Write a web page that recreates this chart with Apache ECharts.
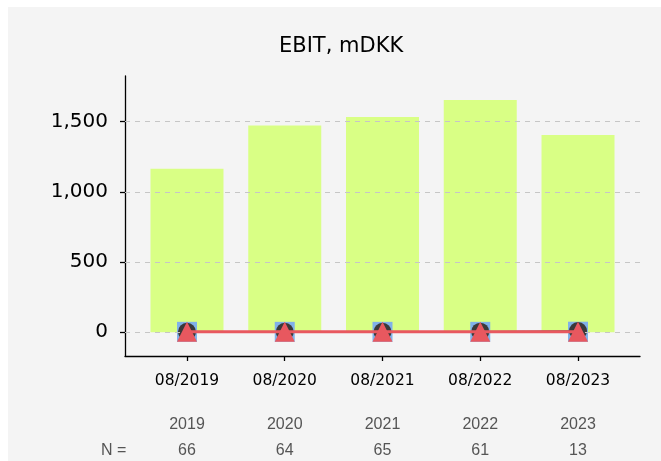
<!DOCTYPE html>
<html>
<head>
<meta charset="utf-8">
<script src="https://cdn.jsdelivr.net/npm/echarts@6/dist/echarts.min.js"></script>
<style>
html,body{margin:0;padding:0;background:#ffffff;}
#bg{position:absolute;left:8px;top:7px;right:0;bottom:0;background:#f4f4f4;}
#c{position:absolute;left:0;top:0;width:661px;height:461px;}
</style>
</head>
<body>
<div id="bg"></div>
<div id="c"></div>
<script>
// ---- data ----
const categories = ['08/2019', '08/2020', '08/2021', '08/2022', '08/2023'];
const years = ['2019', '2020', '2021', '2022', '2023'];
const counts = ['66', '64', '65', '61', '13'];
const ebit = [1164, 1472, 1533, 1654, 1405];
const seriesSquare = [3, 3, 3, 3, 4];
const seriesCircle = [3, 3, 3, 4, 9];
const seriesTriangle = [3, 3, 3, 3, 4];
const yTicks = [0, 500, 1000, 1500];
const xPositions = [0, 1, 2, 3, 4];

const chart = echarts.init(document.getElementById('c'), null, {renderer: 'canvas'});

const toPairs = arr => arr.map((v, i) => [xPositions[i], v]);
const xBase = {
  type: 'value', min: -0.634, max: 4.634, position: 'bottom', gridIndex: 0,
  splitLine: {show: false}
};

chart.setOption({
  animation: false,
  title: [
    {text: 'EBIT, mDKK', left: 274, top: 31,
     textStyle: {fontFamily: 'DejaVu Sans', fontSize: 21, fontWeight: 'normal', color: '#000'}},
    {text: 'N =', left: 96, top: 438,
     textStyle: {fontFamily: 'Liberation Sans', fontSize: 16, fontWeight: 'normal', color: '#555'}}
  ],
  grid: {left: 125, right: 21, top: 76, bottom: 104.5, containLabel: false},
  xAxis: [
    Object.assign({}, xBase, {
      axisLine: {show: true, onZero: false, lineStyle: {color: '#000', width: 1.3}},
      axisTick: {show: true, length: 5, customValues: xPositions, lineStyle: {color: '#000', width: 1.3}},
      axisLabel: {customValues: xPositions, margin: 15, lineHeight: 20,
        formatter: v => categories[Math.round(v)] || '',
        fontFamily: 'DejaVu Sans', fontSize: 15.5, color: '#000'}
    }),
    Object.assign({}, xBase, {
      axisLine: {show: false, onZero: false}, axisTick: {show: false},
      axisLabel: {customValues: xPositions, margin: 58.5, lineHeight: 20,
        formatter: v => years[Math.round(v)] || '',
        fontFamily: 'Liberation Sans', fontSize: 16, color: '#555'}
    }),
    Object.assign({}, xBase, {
      axisLine: {show: false, onZero: false}, axisTick: {show: false},
      axisLabel: {customValues: xPositions, margin: 85, lineHeight: 20,
        formatter: v => counts[Math.round(v)] || '',
        fontFamily: 'Liberation Sans', fontSize: 16, color: '#555'}
    })
  ],
  yAxis: {
    type: 'value', min: -169, max: 1825,
    axisLine: {show: true, onZero: false, lineStyle: {color: '#000', width: 1.3}},
    axisTick: {show: true, length: 5, customValues: yTicks, lineStyle: {color: '#000', width: 1.3}},
    axisLabel: {customValues: yTicks, margin: 17,
      formatter: v => v.toLocaleString('en-US'),
      fontFamily: 'DejaVu Sans', fontSize: 20, color: '#000'},
    splitLine: {show: false}
  },
  series: [
    {
      type: 'line', xAxisIndex: 0, data: [], z: 1, silent: true,
      markLine: {
        silent: true, symbol: 'none', label: {show: false},
        lineStyle: {color: '#c6c6c6', type: [5, 5], width: 1.2},
        data: yTicks.map(t => ({yAxis: t}))
      }
    },
    {
      type: 'bar', xAxisIndex: 0, data: toPairs(ebit), barWidth: 73, z: 2,
      itemStyle: {color: '#d9ff85'}
    },
    {
      type: 'line', xAxisIndex: 0, data: toPairs(seriesSquare), z: 3,
      symbol: 'rect', symbolSize: 20, showAllSymbol: true,
      lineStyle: {color: '#80b1e9', width: 1.5},
      itemStyle: {color: '#80b1e9'}
    },
    {
      type: 'line', xAxisIndex: 0, data: toPairs(seriesCircle), z: 4,
      symbol: 'circle', symbolSize: 18, showAllSymbol: true,
      lineStyle: {color: '#3a3a3a', width: 1.5},
      itemStyle: {color: '#3a3a3a'}
    },
    {
      type: 'line', xAxisIndex: 0, data: toPairs(seriesTriangle), z: 5,
      symbol: 'triangle', symbolSize: 20, showAllSymbol: true,
      lineStyle: {color: '#e8585f', width: 3},
      itemStyle: {color: '#e8585f'}
    }
  ]
});
</script>
</body>
</html>
